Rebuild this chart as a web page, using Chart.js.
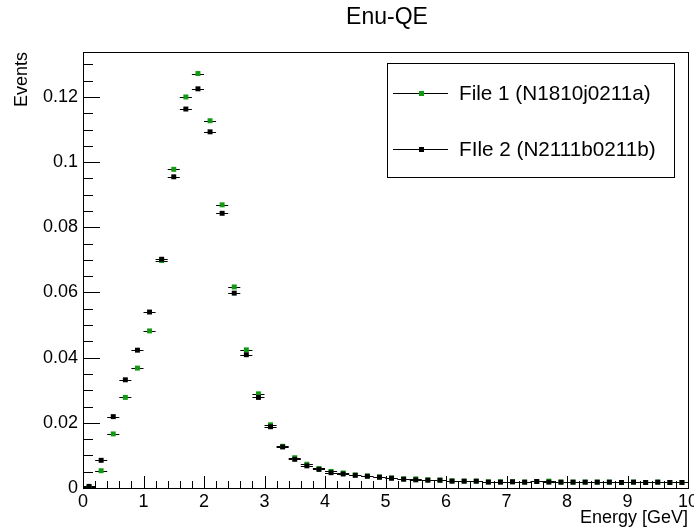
<!DOCTYPE html>
<html>
<head>
<meta charset="utf-8">
<script src="https://cdn.jsdelivr.net/npm/chart.js@4.4.1/dist/chart.umd.min.js"></script>
<style>
  html, body { margin: 0; padding: 0; background: #fff; }
  canvas { display: block; }
</style>
</head>
<body>
<canvas id="enuChart" width="694" height="531"></canvas>
<script>
// bin centres (GeV), bin width 0.2
const binCenters = [
  0.1, 0.3, 0.5, 0.7, 0.9, 1.1, 1.3, 1.5, 1.7, 1.9,
  2.1, 2.3, 2.5, 2.7, 2.9, 3.1, 3.3, 3.5, 3.7, 3.9,
  4.1, 4.3, 4.5, 4.7, 4.9, 5.1, 5.3, 5.5, 5.7, 5.9,
  6.1, 6.3, 6.5, 6.7, 6.9, 7.1, 7.3, 7.5, 7.7, 7.9,
  8.1, 8.3, 8.5, 8.7, 8.9, 9.1, 9.3, 9.5, 9.7, 9.9
];
const binHalfWidth = 0.1;

// File 1 (N1810j0211a) - green
const file1Values = [
  0.0002, 0.0053, 0.0166, 0.0278, 0.0368, 0.0482, 0.0698, 0.0978, 0.1200, 0.1272,
  0.1127, 0.0869, 0.0617, 0.0424, 0.0289, 0.0194, 0.0128, 0.0093, 0.0073, 0.0060,
  0.0051, 0.0046, 0.0040, 0.0037, 0.0034, 0.0031, 0.0028, 0.0028, 0.0025, 0.0024,
  0.0022, 0.0021, 0.0021, 0.0019, 0.0019, 0.0019, 0.0018, 0.0020, 0.0021, 0.0018,
  0.0018, 0.0018, 0.0018, 0.0018, 0.0017, 0.0018, 0.0017, 0.0018, 0.0017, 0.0017
];

// FIle 2 (N2111b0211b) - black
const file2Values = [
  0.0005, 0.0085, 0.0219, 0.0332, 0.0423, 0.0540, 0.0702, 0.0955, 0.1163, 0.1225,
  0.1093, 0.0843, 0.0598, 0.0409, 0.0278, 0.0188, 0.0126, 0.0088, 0.0068, 0.0057,
  0.0047, 0.0043, 0.0039, 0.0036, 0.0033, 0.0030, 0.0027, 0.0025, 0.0024, 0.0024,
  0.0021, 0.0021, 0.0021, 0.0018, 0.0018, 0.0019, 0.0018, 0.0020, 0.0018, 0.0018,
  0.0018, 0.0018, 0.0018, 0.0018, 0.0017, 0.0018, 0.0017, 0.0018, 0.0017, 0.0017
];

const xTicks = [0, 1, 2, 3, 4, 5, 6, 7, 8, 9, 10];
const yTicks = [0, 0.02, 0.04, 0.06, 0.08, 0.1, 0.12];
const xMinorStep = 0.2;
const yMinorStep = 0.005;
const yMax = 0.1338;

const FONT = '"Liberation Sans", Arial, Helvetica, sans-serif';
const GREEN = '#129a12';

// horizontal error bars (bin width), drawn under the markers
const errorBars = {
  id: 'errorBars',
  beforeDatasetsDraw(chart) {
    const { ctx, scales: { x, y } } = chart;
    ctx.save();
    ctx.strokeStyle = '#000';
    ctx.lineWidth = 1;
    chart.data.datasets.forEach(ds => {
      ds.data.forEach(p => {
        const py = Math.round(y.getPixelForValue(p.y)) + 0.5;
        ctx.beginPath();
        ctx.moveTo(x.getPixelForValue(p.x - binHalfWidth), py);
        ctx.lineTo(x.getPixelForValue(p.x + binHalfWidth), py);
        ctx.stroke();
      });
    });
    ctx.restore();
  }
};

// ROOT style frame, inner ticks, title and legend
const rootFrame = {
  id: 'rootFrame',
  afterDraw(chart) {
    const { ctx, chartArea: a, scales: { x, y } } = chart;
    ctx.save();
    ctx.strokeStyle = '#000';
    ctx.lineWidth = 1;
    ctx.strokeRect(Math.round(a.left) + 0.5, Math.round(a.top) + 0.5,
      Math.round(a.right - a.left), Math.round(a.bottom - a.top));

    // y ticks
    const nY = Math.floor(yMax / yMinorStep + 1e-6);
    for (let i = 0; i <= nY; i++) {
      const v = i * yMinorStep;
      const major = yTicks.some(t => Math.abs(t - v) < 1e-9);
      const py = Math.round(y.getPixelForValue(v)) + 0.5;
      ctx.beginPath();
      ctx.moveTo(a.left, py);
      ctx.lineTo(a.left + (major ? 17 : 10), py);
      ctx.stroke();
    }
    // x ticks
    for (let i = 0; i <= 50; i++) {
      const v = i * xMinorStep;
      const major = xTicks.some(t => Math.abs(t - v) < 1e-9);
      const px = Math.round(x.getPixelForValue(v)) + 0.5;
      ctx.beginPath();
      ctx.moveTo(px, a.bottom);
      ctx.lineTo(px, a.bottom - (major ? 12 : 7));
      ctx.stroke();
    }

    // title
    ctx.fillStyle = '#000';
    ctx.font = '23px ' + FONT;
    ctx.textAlign = 'center';
    ctx.textBaseline = 'alphabetic';
    ctx.fillText('Enu-QE', 387, 24);

    // legend
    ctx.fillStyle = '#fff';
    ctx.fillRect(387.5, 63.5, 287, 114);
    ctx.strokeRect(387.5, 63.5, 287, 114);
    const entries = [
      { label: 'File 1 (N1810j0211a)', color: GREEN, y: 93 },
      { label: 'FIle 2 (N2111b0211b)', color: '#000', y: 149 }
    ];
    ctx.font = '20.7px ' + FONT;
    ctx.textAlign = 'left';
    ctx.textBaseline = 'middle';
    entries.forEach(e => {
      ctx.strokeStyle = '#000';
      ctx.beginPath();
      ctx.moveTo(393, e.y + 0.5);
      ctx.lineTo(448, e.y + 0.5);
      ctx.stroke();
      ctx.fillStyle = e.color;
      ctx.fillRect(419, e.y - 2, 5, 5);
      ctx.fillStyle = '#000';
      ctx.fillText(e.label, 459, e.y + 1);
    });
    ctx.restore();
  }
};

new Chart(document.getElementById('enuChart'), {
  type: 'scatter',
  data: {
    datasets: [
      {
        label: 'File 1 (N1810j0211a)',
        data: binCenters.map((c, i) => ({ x: c, y: file1Values[i] })),
        backgroundColor: GREEN,
        pointStyle: 'rect',
        pointRadius: 3.5,
        pointBorderWidth: 0,
        order: 1
      },
      {
        label: 'FIle 2 (N2111b0211b)',
        data: binCenters.map((c, i) => ({ x: c, y: file2Values[i] })),
        backgroundColor: '#000',
        pointStyle: 'rect',
        pointRadius: 3.5,
        pointBorderWidth: 0,
        order: 0
      }
    ]
  },
  options: {
    responsive: false,
    animation: false,
    devicePixelRatio: 1,
    layout: { padding: { left: 0, right: 6, top: 52, bottom: 0 } },
    plugins: {
      legend: { display: false },
      tooltip: { enabled: false }
    },
    scales: {
      x: {
        type: 'linear',
        min: 0,
        max: 10,
        grid: { display: false, drawTicks: false },
        border: { display: false },
        afterBuildTicks: s => { s.ticks = xTicks.map(v => ({ value: v })); },
        afterFit: s => { s.height = 43; s.paddingLeft = 0; s.paddingRight = 0; },
        ticks: {
          color: '#000',
          font: { family: FONT, size: 18 },
          padding: 3,
          maxRotation: 0,
          autoSkip: false
        },
        title: {
          display: true,
          text: 'Energy [GeV]',
          align: 'end',
          color: '#000',
          font: { family: FONT, size: 18 },
          padding: { top: 0, bottom: 2 }
        }
      },
      y: {
        type: 'linear',
        min: 0,
        max: yMax,
        grid: { display: false, drawTicks: false },
        border: { display: false },
        afterBuildTicks: s => { s.ticks = yTicks.map(v => ({ value: v })); },
        afterFit: s => { s.width = 83; s.paddingTop = 0; s.paddingBottom = 0; },
        ticks: {
          color: '#000',
          font: { family: FONT, size: 18 },
          padding: 5,
          autoSkip: false,
          callback: v => String(Number(v.toFixed(4)))
        },
        title: {
          display: true,
          text: 'Events',
          align: 'end',
          color: '#000',
          font: { family: FONT, size: 18 },
          padding: { top: 11, bottom: 0 }
        }
      }
    }
  },
  plugins: [errorBars, rootFrame]
});
</script>
</body>
</html>
